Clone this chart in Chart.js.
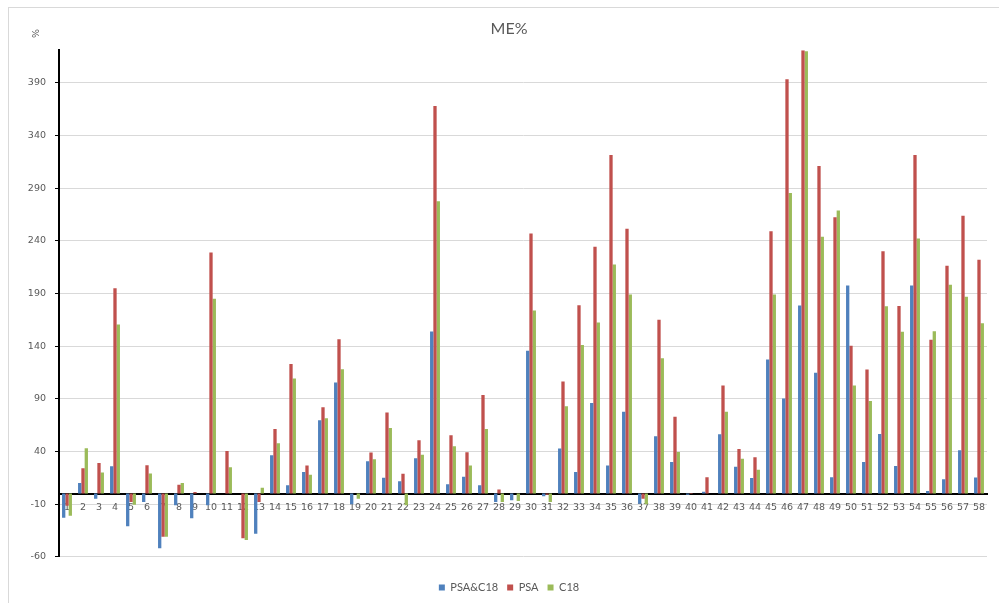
<!DOCTYPE html>
<html>
<head>
<meta charset="utf-8">
<title>ME%</title>
<script src="https://cdn.jsdelivr.net/npm/chart.js@4"></script>
<style>
  html, body { margin: 0; padding: 0; background: #fff; overflow: hidden; }
  #frame { position: absolute; left: 8px; top: 7px; width: 1100px; height: 700px; border: 1px solid #d9d9d9; }
  #wrap { position: absolute; left: 0; top: 0; width: 1018px; height: 603px; }
</style>
</head>
<body>
<div id="frame"></div>
<div id="wrap"><canvas id="meChart"></canvas></div>
<script>
// категории 1..58
const categories = ['1','2','3','4','5','6','7','8','9','10','11','12','13','14','15','16','17','18','19','20',
  '21','22','23','24','25','26','27','28','29','30','31','32','33','34','35','36','37','38','39','40',
  '41','42','43','44','45','46','47','48','49','50','51','52','53','54','55','56','57','58'];

const psaC18 = [-23, 10, -5, 26, -31, -8, -52, -11, -23.5, -11, 0, 0, -38, 36.5, 8, 20.6, 69.6, 105.6, -10, 30.8,
  15, 11.8, 33.6, 154, 9, 16, 8, -8, -6.4, 135.6, -2.4, 42.8, 20.6, 86, 26.7, 77.8, -9.6, 54.5, 30, -1,
  1.7, 56.3, 25.4, 14.7, 127.4, 90.4, 178.5, 114.8, 15.6, 197.7, 30, 56.6, 26.3, 197.7, 2.4, 13.7, 41.2, 15.3];

const psa = [-11.5, 24, 29, 195, -8, 27, -41, 8.3, 1.5, 229, 40.5, -42.5, -8, 61.4, 123, 26.7, 82, 146.6, 0, 39,
  77, 18.8, 50.7, 368, 55.4, 39.3, 93.6, 4, 0, 247, -1, 106.5, 178.8, 234.4, 321.5, 251.4, -5, 165, 73, 0.5,
  15.6, 102.7, 42.4, 34.6, 249, 393.5, 421, 311, 262.5, 140.3, 117.9, 230, 178.2, 321.5, 146, 216.4, 263.7, 222];

const c18 = [-21, 43, 20, 160.5, -10.6, 19, -41, 10, 0, 185, 25, -44, 5.5, 47.8, 109.4, 17.8, 71.5, 118, -5, 32.7,
  62.3, -11, 36.8, 277.6, 45, 26.7, 61.4, -8, -7, 173.8, -8, 82.9, 141, 162.4, 217.6, 189, -10, 128.6, 39.6, 0,
  0, 77.8, 33, 22.6, 189, 285.5, 420, 243.8, 268.8, 102.7, 88, 177.8, 153.6, 242.2, 154.2, 198.4, 187, 161.7];

const yTicks = [-60, -10, 40, 90, 140, 190, 240, 290, 340, 390];
const yMin = -60;
const yMax = 421;

const axisFont = { family: 'DejaVu Sans', size: 9.5 };
const textColor = '#595959';

// подпись единиц "%" над осью Y
const unitLabel = {
  id: 'unitLabel',
  afterLayout(chart) {
    // чтобы подписи оси Y не обрезались слева
    chart.scales.y.left = 0;
  },
  afterDraw(chart) {
    const ctx = chart.ctx;
    ctx.save();
    ctx.translate(37, 33.5);
    ctx.rotate(-Math.PI / 2);
    ctx.fillStyle = textColor;
    ctx.font = '9.5px "DejaVu Sans"';
    ctx.textAlign = 'center';
    ctx.textBaseline = 'middle';
    ctx.fillText('%', 0, 0);
    ctx.restore();
  }
};

new Chart(document.getElementById('meChart'), {
  type: 'bar',
  data: {
    labels: categories,
    datasets: [
      { label: 'PSA&C18', data: psaC18, backgroundColor: '#4f81bd' },
      { label: 'PSA', data: psa, backgroundColor: '#c0504d' },
      { label: 'C18', data: c18, backgroundColor: '#9bbb59' }
    ]
  },
  options: {
    responsive: true,
    maintainAspectRatio: false,
    animation: false,
    categoryPercentage: 0.62,
    barPercentage: 1.0,
    layout: { padding: { left: 31, right: 31, top: 0, bottom: 0 } },
    plugins: {
      title: {
        display: true,
        text: 'ME%',
        color: textColor,
        font: { family: 'Lato', size: 16, weight: 'normal' },
        padding: { top: 19, bottom: 12 }
      },
      legend: {
        position: 'bottom',
        title: { display: true, text: '', font: { size: 1 }, padding: { top: 15, bottom: 0 } },
        labels: {
          boxWidth: 6,
          boxHeight: 6,
          padding: 9,
          color: textColor,
          font: { family: 'Lato', size: 11 }
        }
      },
      tooltip: { enabled: false }
    },
    scales: {
      x: {
        position: { y: 0 },
        grid: { drawOnChartArea: false, drawTicks: false },
        border: { color: '#000', width: 2 },
        ticks: { autoSkip: false, maxRotation: 0, padding: 8, color: textColor, font: axisFont }
      },
      y: {
        min: yMin,
        max: yMax,
        afterBuildTicks: scale => { scale.ticks = yTicks.map(v => ({ value: v })); },
        afterFit: scale => { scale.width = 28; },
        grid: { color: '#d9d9d9', tickColor: '#000', tickLength: 4 },
        border: { color: '#000', width: 2 },
        ticks: { padding: 9, color: textColor, font: axisFont }
      }
    }
  },
  plugins: [unitLabel]
});
</script>
</body>
</html>
